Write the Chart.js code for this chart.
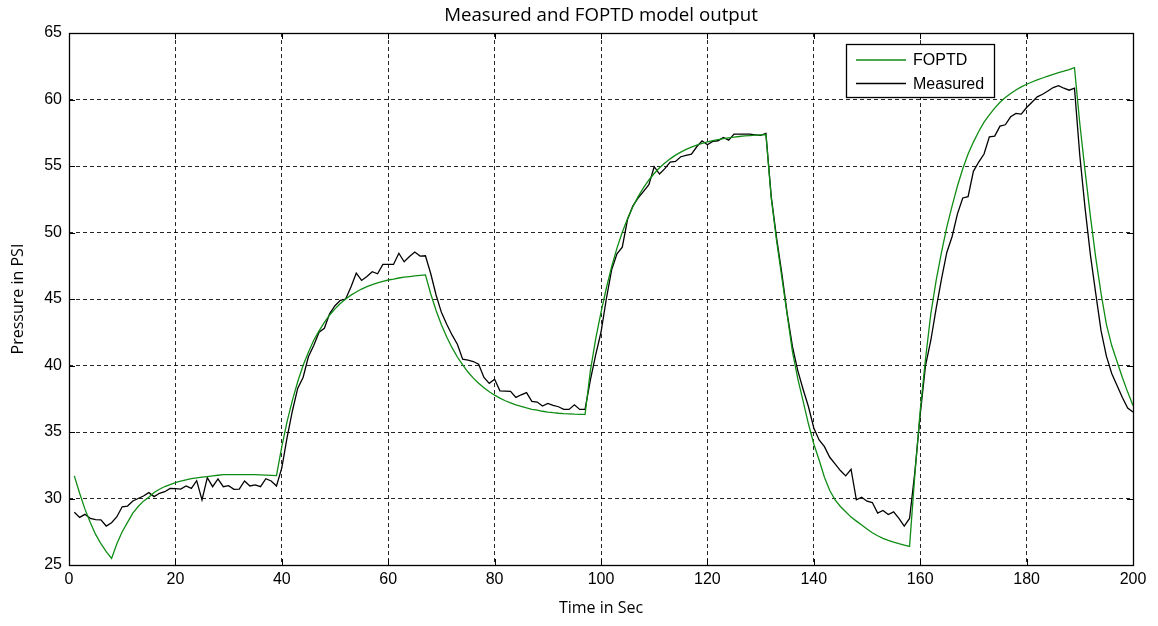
<!DOCTYPE html>
<html>
<head>
<meta charset="utf-8">
<script src="https://cdn.jsdelivr.net/npm/chart.js@4.4.1/dist/chart.umd.min.js"></script>
<style>
  html, body { margin: 0; padding: 0; background: #ffffff; }
  #wrap { width: 1158px; height: 626px; position: relative; }
</style>
</head>
<body>
<div id="wrap"><canvas id="c" width="1158" height="626"></canvas></div>
<script>
// ---- data ----
const timeSec = [
  1,2,3,4,5,6,7,8,9,10,11,12,13,14,15,16,17,18,19,20,
  21,22,23,24,25,26,27,28,29,30,31,32,33,34,35,36,37,38,39,40,
  41,42,43,44,45,46,47,48,49,50,51,52,53,54,55,56,57,58,59,60,
  61,62,63,64,65,66,67,68,69,70,71,72,73,74,75,76,77,78,79,80,
  81,82,83,84,85,86,87,88,89,90,91,92,93,94,95,96,97,98,99,100,
  101,102,103,104,105,106,107,108,109,110,111,112,113,114,115,116,117,118,119,120,
  121,122,123,124,125,126,127,128,129,130,131,132,133,134,135,136,137,138,139,140,
  141,142,143,144,145,146,147,148,149,150,151,152,153,154,155,156,157,158,159,160,
  161,162,163,164,165,166,167,168,169,170,171,172,173,174,175,176,177,178,179,180,
  181,182,183,184,185,186,187,188,189,190,191,192,193,194,195,196,197,198,199,200
];

const foptd = [
  31.7,30.4,29.2,28.2,27.3,26.6,26.0,25.5,
  26.6,27.5,28.2,28.9,29.4,29.8,30.1,30.45,30.7,30.9,31.05,31.2,31.3,31.4,31.5,31.55,31.6,31.65,31.7,31.75,
  31.8,31.8,31.8,31.8,31.8,31.8,31.8,31.78,31.76,31.74,31.72,
  33.9,35.8,37.4,38.8,40.0,41.0,41.9,42.6,43.25,43.8,44.26,44.66,45.0,45.29,45.53,45.75,45.93,46.08,46.22,46.33,
  46.43,46.5,46.58,46.64,46.69,46.74,46.78,46.81,
  45.38,44.14,43.07,42.15,41.34,40.64,40.04,39.51,39.05,38.67,38.33,38.03,37.77,37.55,37.35,37.19,37.04,36.92,
  36.81,36.71,36.64,36.56,36.5,36.45,36.41,36.38,36.36,36.34,36.33,36.32,
  39.6,42.0,44.0,45.81,47.43,48.83,50.02,51.06,51.95,52.72,53.38,53.95,54.44,54.87,55.23,55.54,55.82,56.05,
  56.25,56.42,56.57,56.7,56.81,56.91,56.99,57.06,57.12,57.17,57.22,57.26,57.29,57.32,57.35,57.37,
  52.6,49.4,46.6,43.8,41.0,39.0,37.3,35.6,34.1,32.9,31.6,30.6,29.9,29.4,29.0,28.6,28.3,28.0,27.7,27.42,
  27.2,27.0,26.85,26.72,26.6,26.5,26.4,
  31.8,36.6,40.5,43.9,46.4,48.5,50.4,52.0,53.5,54.8,55.9,56.8,57.6,58.3,58.85,59.35,59.8,60.15,60.45,60.72,
  60.95,61.15,61.32,61.48,61.62,61.76,61.9,62.02,62.13,62.25,62.4,
  58.2,54.6,51.2,48.1,45.4,43.1,41.5,40.3,39.1,38.0,37.0
];

const measured = [
  28.96,28.58,28.81,28.51,28.41,28.39,27.93,28.18,28.63,29.38,29.43,29.81,30.0,30.19,30.44,30.14,30.39,30.51,30.76,30.74,
  30.71,30.94,30.76,31.34,29.89,31.57,30.89,31.47,30.89,30.97,30.69,30.71,31.32,30.94,31.02,30.89,31.49,31.32,30.94,
  32.3,34.6,36.6,38.3,39.1,40.66,41.5,42.5,42.8,43.9,44.5,44.9,45.0,45.9,46.95,46.4,46.7,47.05,46.9,47.6,
  47.6,47.6,48.44,47.8,48.2,48.53,48.23,48.25,
  46.9,45.3,44.0,43.1,42.3,41.6,40.47,40.4,40.3,40.1,39.1,38.66,38.96,38.1,38.08,38.06,37.6,37.8,37.96,37.3,
  37.25,36.95,37.15,37.0,36.9,36.7,36.7,37.05,36.7,36.7,
  38.9,40.8,42.5,45.0,47.2,48.4,48.9,51.0,52.0,52.6,53.1,53.6,54.95,54.4,54.8,55.3,55.35,55.7,55.8,55.9,
  56.45,56.9,56.6,56.85,56.9,57.15,56.95,57.4,57.4,57.4,57.4,57.35,57.3,57.45,
  52.7,49.6,46.9,43.9,41.4,39.6,38.2,36.9,35.3,34.4,33.9,33.1,32.6,32.1,31.7,32.2,29.9,30.1,29.8,29.7,
  28.9,29.1,28.8,29.0,28.5,27.93,28.5,
  32.0,36.3,40.0,41.9,44.3,46.5,48.5,49.7,51.4,52.6,52.7,54.6,55.3,55.9,57.2,57.25,58.0,58.1,58.7,58.96,
  58.9,59.4,59.8,60.2,60.4,60.64,60.9,61.04,60.85,60.7,60.85,
  55.8,51.8,48.3,45.4,42.6,40.7,39.4,38.5,37.6,36.8,36.5
];

const xTickValues = [0, 20, 40, 60, 80, 100, 120, 140, 160, 180, 200];
const yTickValues = [25, 30, 35, 40, 45, 50, 55, 60, 65];
const seriesNames = ['FOPTD', 'Measured'];
const seriesColors = ['#0f8c14', '#000000'];
const chartTitle = 'Measured and FOPTD model output';
const xTitle = 'Time in Sec';
const yTitle = 'Pressure in PSI';

// ---- chart ----
const tickFont = { family: '"Liberation Sans", Arial, sans-serif', size: 16 };
const labelFont = { family: '"Open Sans", "Noto Sans", sans-serif', size: 16 };

const boxPlugin = {
  id: 'matlabBox',
  afterDatasetsDraw(chart) {
    const { ctx, chartArea: a, scales } = chart;
    ctx.save();
    ctx.strokeStyle = '#000';
    ctx.lineWidth = 1;
    ctx.setLineDash([]);
    // inward tick marks
    const tl = 6;
    ctx.beginPath();
    xTickValues.forEach(v => {
      const x = Math.round(scales.x.getPixelForValue(v)) + 0.5;
      ctx.moveTo(x, a.bottom); ctx.lineTo(x, a.bottom - tl);
      ctx.moveTo(x, a.top); ctx.lineTo(x, a.top + tl);
    });
    yTickValues.forEach(v => {
      const y = Math.round(scales.y.getPixelForValue(v)) + 0.5;
      ctx.moveTo(a.left, y); ctx.lineTo(a.left + tl, y);
      ctx.moveTo(a.right, y); ctx.lineTo(a.right - tl, y);
    });
    ctx.stroke();
    // axes box
    ctx.lineWidth = 1.3;
    ctx.strokeRect(Math.round(a.left) + 0.5, Math.round(a.top) + 0.5,
                   Math.round(a.right - a.left), Math.round(a.bottom - a.top));
    // legend box
    const bx = 846, by = 44, bw = 148, bh = 53;
    ctx.fillStyle = '#fff';
    ctx.fillRect(bx, by, bw, bh);
    ctx.lineWidth = 1.3;
    ctx.strokeRect(bx + 0.5, by + 0.5, bw, bh);
    ctx.font = '16px "Liberation Sans", Arial, sans-serif';
    ctx.textBaseline = 'middle';
    ctx.textAlign = 'left';
    chart.data.datasets.forEach((ds, i) => {
      const y = by + 16 + i * 23.5;
      ctx.strokeStyle = ds.borderColor;
      ctx.lineWidth = 1.3;
      ctx.beginPath();
      ctx.moveTo(bx + 10, y); ctx.lineTo(bx + 60, y);
      ctx.stroke();
      ctx.fillStyle = '#000';
      ctx.fillText(ds.label, bx + 67, y + 1);
    });
    ctx.restore();
  }
};

new Chart(document.getElementById('c'), {
  type: 'line',
  data: {
    datasets: [
      {
        label: seriesNames[0],
        data: timeSec.map((t, i) => ({ x: t, y: foptd[i] })),
        borderColor: seriesColors[0],
        borderWidth: 1.3,
        pointRadius: 0,
        tension: 0,
        fill: false
      },
      {
        label: seriesNames[1],
        data: timeSec.map((t, i) => ({ x: t, y: measured[i] })),
        borderColor: seriesColors[1],
        borderWidth: 1.3,
        pointRadius: 0,
        tension: 0,
        fill: false
      }
    ]
  },
  options: {
    responsive: false,
    animation: false,
    devicePixelRatio: 1,
    layout: { padding: { left: 0, right: 25, top: 0, bottom: 0 } },
    plugins: {
      legend: { display: false },
      tooltip: { enabled: false },
      title: {
        display: true,
        fullSize: false,
        text: chartTitle,
        color: '#000',
        font: { family: '"Open Sans", "Noto Sans", sans-serif', size: 18.7, weight: 'normal', lineHeight: 1.2 },
        padding: { top: 4, bottom: 6.6 }
      }
    },
    scales: {
      x: {
        type: 'linear',
        min: 0, max: 200,
        afterFit(scale) { scale.height = 61; },
        afterBuildTicks(scale) { scale.ticks = xTickValues.map(v => ({ value: v })); },
        ticks: { color: '#000', font: tickFont, padding: 5, maxRotation: 0, autoSkip: false },
        grid: { color: 'rgba(0,0,0,0.85)', lineWidth: 1, drawTicks: false },
        border: { display: false, dash: [4, 3] },
        title: { display: true, text: xTitle, color: '#000', font: labelFont, padding: { top: 0, bottom: 8 } }
      },
      y: {
        type: 'linear',
        min: 25, max: 65,
        afterFit(scale) { scale.width = 69; },
        afterBuildTicks(scale) { scale.ticks = yTickValues.map(v => ({ value: v })); },
        ticks: { color: '#000', font: tickFont, padding: 7, autoSkip: false },
        grid: { color: 'rgba(0,0,0,0.85)', lineWidth: 1, drawTicks: false },
        border: { display: false, dash: [4, 3] },
        title: { display: true, text: yTitle, color: '#000', font: labelFont, padding: { top: 9, bottom: 0 } }
      }
    }
  },
  plugins: [boxPlugin]
});
</script>
</body>
</html>
